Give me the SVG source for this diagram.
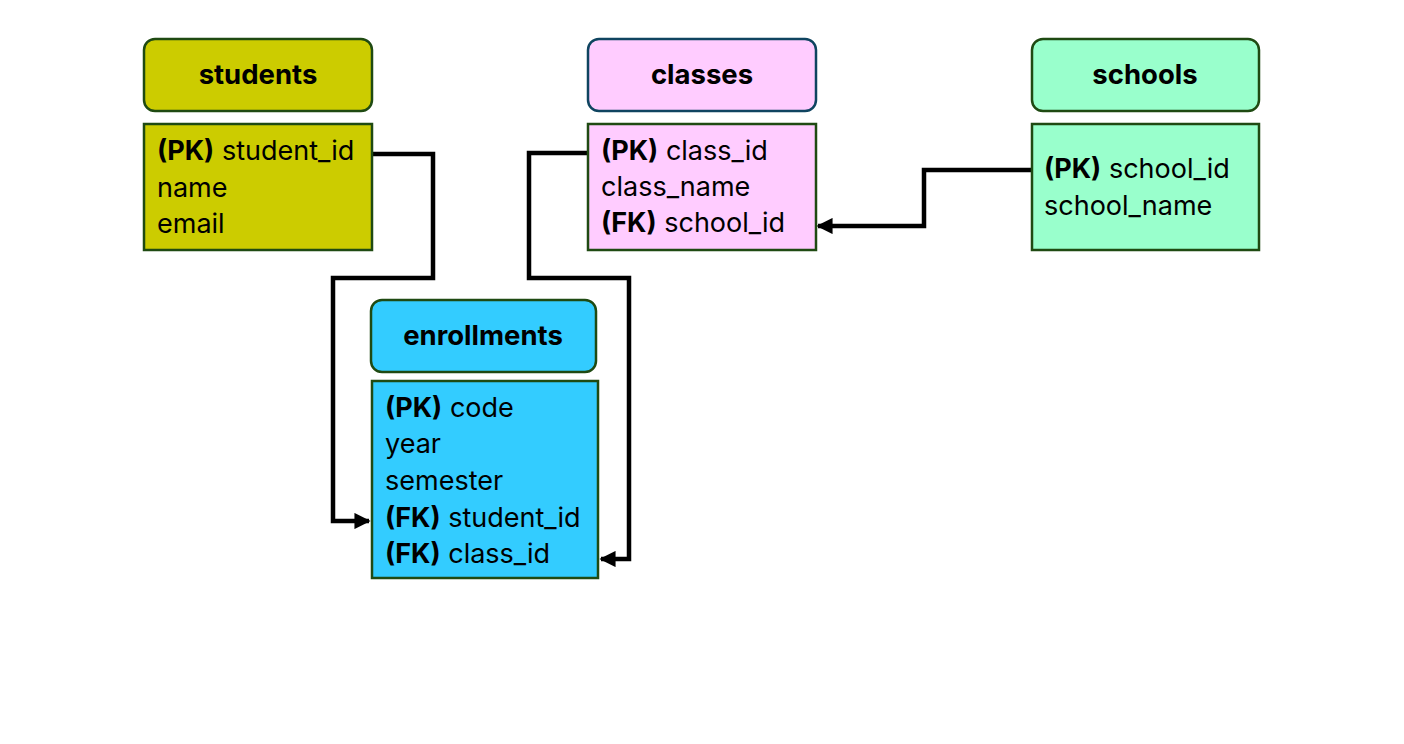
<svg xmlns="http://www.w3.org/2000/svg" width="1404" height="744" viewBox="0 0 1404 744">
<defs>
<style>
.hdr{stroke:#1f4a12;stroke-width:2.5}
.body{stroke:#1f4a12;stroke-width:2.5}
.t{font-family:Inter,"Open Sans","Liberation Sans",sans-serif;font-size:27px;fill:#000}
.h{font-family:Inter,"Open Sans","Liberation Sans",sans-serif;font-size:27.5px;font-weight:bold;fill:#000;text-anchor:middle}
.b{font-weight:bold}
.c{fill:none;stroke:#000;stroke-width:4.5}
</style>
<marker id="arr" viewBox="0 0 10 10" refX="9" refY="5" markerWidth="3.6" markerHeight="3.6" orient="auto" markerUnits="strokeWidth">
<path d="M0,0 L10,5 L0,10 z" fill="#000"/>
</marker>
</defs>
<rect width="1404" height="744" fill="#fff"/>
<g id="connectors">
<path class="c" d="M372,154 H433 V278 H333 V521 H369" marker-end="url(#arr)"/>
<path class="c" d="M588,153 H529 V278 H629 V559 H601" marker-end="url(#arr)"/>
<path class="c" d="M1032,170 H924 V226 H818" marker-end="url(#arr)"/>
</g>
<g id="students">
<rect class="hdr" x="144" y="39" width="228" height="72" rx="11" fill="#cccc00"/>
<text class="h" x="258" y="84">students</text>
<rect class="body" x="144" y="124" width="228" height="126" fill="#cccc00"/>
<text class="t" x="157" y="160"><tspan class="b">(PK)</tspan> student_id</text>
<text class="t" x="157" y="197">name</text>
<text class="t" x="157" y="233">email</text>
</g>
<g id="classes">
<rect x="588" y="39" width="228" height="72" rx="11" fill="#ffccff" stroke="#0f4460" stroke-width="2.5"/>
<text class="h" x="702" y="84">classes</text>
<rect class="body" x="588" y="124" width="228" height="126" fill="#ffccff"/>
<text class="t" x="601" y="160"><tspan class="b">(PK)</tspan> class_id</text>
<text class="t" x="601" y="196">class_name</text>
<text class="t" x="601" y="232"><tspan class="b">(FK)</tspan> school_id</text>
</g>
<g id="schools">
<rect class="hdr" x="1032" y="39" width="227" height="72" rx="11" fill="#99ffcc"/>
<text class="h" x="1145" y="84">schools</text>
<rect class="body" x="1032" y="124" width="227" height="126" fill="#99ffcc"/>
<text class="t" x="1044" y="178"><tspan class="b">(PK)</tspan> school_id</text>
<text class="t" x="1044" y="215">school_name</text>
</g>
<g id="enrollments">
<rect class="hdr" x="371" y="300" width="225" height="72" rx="11" fill="#33ccff"/>
<text class="h" x="483" y="345">enrollments</text>
<rect class="body" x="372" y="381" width="226" height="197" fill="#33ccff"/>
<text class="t" x="385" y="417"><tspan class="b">(PK)</tspan> code</text>
<text class="t" x="385" y="453">year</text>
<text class="t" x="385" y="490">semester</text>
<text class="t" x="385" y="527"><tspan class="b">(FK)</tspan> student_id</text>
<text class="t" x="385" y="563"><tspan class="b">(FK)</tspan> class_id</text>
</g>
</svg>
